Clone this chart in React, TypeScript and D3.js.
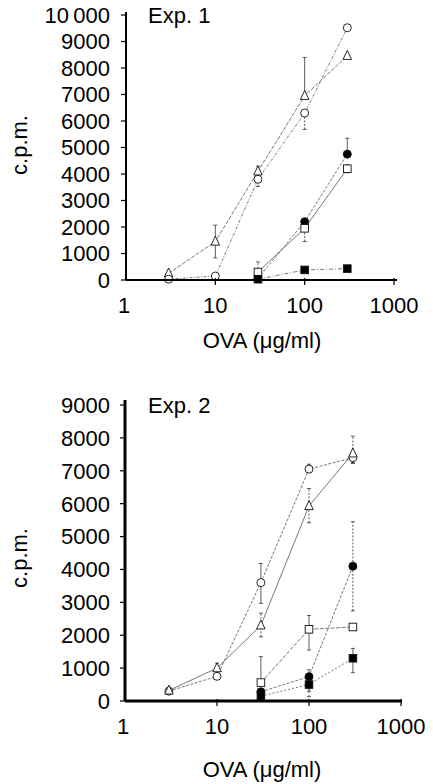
import React from "react";
import * as d3 from "d3";

// ---------- data ----------
const doses = [3, 10, 30, 100, 300];
const xTicks = [1, 10, 100, 1000];
const xTickLabels = ["1", "10", "100", "1000"];
const yTicks1 = [0, 1000, 2000, 3000, 4000, 5000, 6000, 7000, 8000, 9000, 10000];
const yTickLabels1 = ["0", "1000", "2000", "3000", "4000", "5000", "6000", "7000", "8000", "9000", "10\u2009000"];
const yTicks2 = [0, 1000, 2000, 3000, 4000, 5000, 6000, 7000, 8000, 9000];
const yTickLabels2 = ["0", "1000", "2000", "3000", "4000", "5000", "6000", "7000", "8000", "9000"];

// Exp. 1
const e1OpenTriangle = [250, 1450, 4100, 6950, 8460];
const e1OpenTriangleErr = [null, [830, 2070], [3950, 4300], [6950, 8400], null];
const e1OpenCircle = [30, 150, 3800, 6300, 9520];
const e1OpenCircleErr = [null, null, [3530, 3800], [5680, 6300], null];
const e1FilledCircle = [null, null, 60, 2200, 4750];
const e1FilledCircleErr = [null, null, null, null, [4750, 5350]];
const e1OpenSquare = [null, null, 300, 1950, 4200];
const e1OpenSquareErr = [null, null, [300, 680], [1450, 1950], [4050, 4350]];
const e1FilledSquare = [null, null, 30, 380, 430];
const e1FilledSquareErr = [null, null, null, null, null];

// Exp. 2
const e2OpenCircle = [300, 750, 3600, 7050, 7400];
const e2OpenCircleErr = [null, null, [2970, 4180], [6950, 7200], [7250, 7550]];
const e2OpenTriangle = [320, 1000, 2300, 5930, 7530];
const e2OpenTriangleErr = [null, [850, 1150], [1950, 2670], [5420, 6460], [7220, 8050]];
const e2OpenSquare = [null, null, 560, 2180, 2250];
const e2OpenSquareErr = [null, null, [560, 1350], [1550, 2600], [2150, 2350]];
const e2FilledCircle = [null, null, 280, 740, 4100];
const e2FilledCircleErr = [null, null, null, [130, 950], [2740, 5450]];
const e2FilledSquare = [null, null, 150, 500, 1300];
const e2FilledSquareErr = [null, null, null, [300, 700], [860, 1600]];

type Err = number[] | null;
type Series = {
  values: (number | null)[];
  errs: Err[];
  shape: "circle" | "triangle" | "square";
  filled: boolean;
  dash: string;
};

const panel1Series: Series[] = [
  { values: e1OpenTriangle, errs: e1OpenTriangleErr, shape: "triangle", filled: false, dash: "4,1.5" },
  { values: e1OpenCircle, errs: e1OpenCircleErr, shape: "circle", filled: false, dash: "3,1.5,1,1.5" },
  { values: e1FilledCircle, errs: e1FilledCircleErr, shape: "circle", filled: true, dash: "3,1.5" },
  { values: e1OpenSquare, errs: e1OpenSquareErr, shape: "square", filled: false, dash: "" },
  { values: e1FilledSquare, errs: e1FilledSquareErr, shape: "square", filled: true, dash: "4,2,1,2" },
];

const panel2Series: Series[] = [
  { values: e2OpenCircle, errs: e2OpenCircleErr, shape: "circle", filled: false, dash: "3,1.5" },
  { values: e2OpenTriangle, errs: e2OpenTriangleErr, shape: "triangle", filled: false, dash: "" },
  { values: e2OpenSquare, errs: e2OpenSquareErr, shape: "square", filled: false, dash: "4,1.5" },
  { values: e2FilledCircle, errs: e2FilledCircleErr, shape: "circle", filled: true, dash: "3,1.5" },
  { values: e2FilledSquare, errs: e2FilledSquareErr, shape: "square", filled: true, dash: "2,2" },
];

const FONT = "'Liberation Sans', Arial, Helvetica, sans-serif";
const FS = 22;

function Marker({ shape, filled, cx, cy }: { shape: string; filled: boolean; cx: number; cy: number }) {
  const fill = filled ? "#000" : "#fff";
  const stroke = "#111";
  if (shape === "circle") return <circle cx={cx} cy={cy} r={4} fill={fill} stroke={stroke} strokeWidth={0.9} />;
  if (shape === "square") return <rect x={cx - 3.8} y={cy - 3.8} width={7.6} height={7.6} fill={fill} stroke={stroke} strokeWidth={0.9} />;
  const h = 9, w = 8.5;
  return (
    <path
      d={`M${cx},${cy - h * 0.6}L${cx + w / 2},${cy + h * 0.4}L${cx - w / 2},${cy + h * 0.4}Z`}
      fill={fill}
      stroke={stroke}
      strokeWidth={0.9}
    />
  );
}

function Panel({
  series, yTicks, yTickLabels, yMax, xRange, yRange, axisTop, axisRight, axisW,
  title, titleY, yLabelY, tickLabelY, xTitleY,
}: any) {
  const x = d3.scaleLog().domain([1, 1000]).range(xRange);
  const y = d3.scaleLinear().domain([0, yMax]).range(yRange);
  const x0 = xRange[0];
  const y0 = yRange[0];
  const line = d3
    .line<[number, number | null]>()
    .defined((d) => d[1] !== null)
    .x((d) => x(d[0]))
    .y((d) => y(d[1] as number));
  return (
    <g>
      {series.map((s: Series, i: number) => (
        <path
          key={"l" + i}
          d={line(doses.map((d, j) => [d, s.values[j]]) as any) || ""}
          fill="none"
          stroke="#555"
          strokeWidth={0.8}
          strokeDasharray={s.dash || undefined}
        />
      ))}
      {series.map((s: Series, i: number) =>
        s.errs.map((e, j) =>
          e ? (
            <g key={"e" + i + "-" + j} stroke="#333" strokeWidth={0.8}>
              <line x1={x(doses[j])} x2={x(doses[j])} y1={y(e[0])} y2={y(e[1])} strokeDasharray={i % 2 ? "2,1.5" : undefined} />
              <line x1={x(doses[j]) - 2} x2={x(doses[j]) + 2} y1={y(e[1])} y2={y(e[1])} />
              <line x1={x(doses[j]) - 2} x2={x(doses[j]) + 2} y1={y(e[0])} y2={y(e[0])} />
            </g>
          ) : null
        )
      )}
      {series.map((s: Series, i: number) =>
        s.values.map((v, j) =>
          v === null ? null : (
            <Marker key={"m" + i + "-" + j} shape={s.shape} filled={s.filled} cx={x(doses[j])} cy={y(v)} />
          )
        )
      )}
      <line x1={x0} x2={x0} y1={y0} y2={axisTop} stroke="#000" strokeWidth={axisW} />
      <line x1={x0} x2={axisRight} y1={y0} y2={y0} stroke="#000" strokeWidth={axisW} />
      {yTicks.map((t: number, i: number) => (
        <g key={"yt" + i}>
          <line x1={x0 - 5} x2={x0} y1={y(t)} y2={y(t)} stroke="#000" strokeWidth={1.2} />
          <text x={110} y={y(t)} dy="0.36em" textAnchor="end" fontFamily={FONT} fontSize={FS} fill="#000">
            {yTickLabels[i]}
          </text>
        </g>
      ))}
      {xTicks.map((t, i) => (
        <g key={"xt" + i}>
          {i > 0 && <line x1={x(t)} x2={x(t)} y1={y0 - 2} y2={y0 + 5} stroke="#000" strokeWidth={1.2} />}
          <text x={x(t) - (i === 0 ? 2 : 0)} y={tickLabelY} textAnchor="middle" fontFamily={FONT} fontSize={FS} fill="#000">
            {xTickLabels[i]}
          </text>
        </g>
      ))}
      <text x={148} y={titleY} fontFamily={FONT} fontSize={FS} fill="#000">
        {title}
      </text>
      <text
        transform={`translate(27,${yLabelY}) rotate(-90)`}
        textAnchor="middle"
        fontFamily={FONT}
        fontSize={FS}
        fill="#000"
      >
        c.p.m.
      </text>
      <text x={262} y={xTitleY} textAnchor="middle" fontFamily={FONT} fontSize={FS} fill="#000">
        OVA (μg/ml)
      </text>
    </g>
  );
}

export default function App() {
  return (
    <div style={{ position: "absolute", left: 0, top: 0 }}>
      <svg width={433} height={784} style={{ display: "block", background: "#fff" }}>
        <Panel
          series={panel1Series}
          yTicks={yTicks1}
          yTickLabels={yTickLabels1}
          yMax={10000}
          xRange={[126, 394]}
          yRange={[280, 15]}
          axisTop={12}
          axisRight={397}
          axisW={2}
          title="Exp. 1"
          titleY={23}
          yLabelY={145}
          tickLabelY={313}
          xTitleY={348}
        />
        <Panel
          series={panel2Series}
          yTicks={yTicks2}
          yTickLabels={yTickLabels2}
          yMax={9000}
          xRange={[125, 401]}
          yRange={[701, 405]}
          axisTop={400}
          axisRight={402}
          axisW={3}
          title="Exp. 2"
          titleY={413}
          yLabelY={558}
          tickLabelY={734}
          xTitleY={777}
        />
      </svg>
    </div>
  );
}
